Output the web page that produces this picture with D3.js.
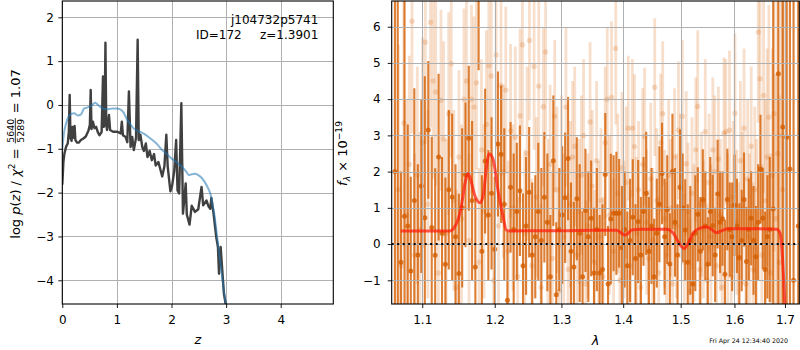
<!DOCTYPE html>
<html><head><meta charset="utf-8">
<script src="https://cdn.jsdelivr.net/npm/d3@7"></script>
<style>
body{margin:0;background:#fff}
svg{display:block;font-family:"DejaVu Sans",sans-serif}
</style></head><body>
<svg id="c" width="800" height="350"></svg>
<script>
// ---------------- DATA ----------------
// left panel: log p(z)
const zDark = [0.00,0.02,0.04,0.07,0.10,0.12,0.135,0.15,0.17,0.185,0.20,0.225,0.24,0.27,0.30,0.34,0.38,0.43,0.48,0.505,0.52,0.535,0.56,0.59,0.62,0.65,0.68,0.72,0.745,0.76,0.775,0.79,0.805,0.82,0.855,0.875,0.93,1.00,1.07,1.09,1.11,1.16,1.19,1.22,1.25,1.28,1.31,1.35,1.38,1.40,1.43,1.465,1.495,1.53,1.56,1.60,1.64,1.68,1.71,1.76,1.80,1.83,1.87,1.905,1.93,1.98,2.01,2.05,2.085,2.11,2.14,2.18,2.21,2.26,2.28,2.33,2.37,2.43,2.49,2.55,2.58,2.64,2.68,2.71,2.73,2.77,2.82,2.85,2.87,2.90,2.93,2.96,3.00];
const logpDark = [-1.82,-1.30,-1.10,-0.95,-0.88,-0.60,0.23,-0.75,-0.82,-0.50,-0.75,-0.48,-0.80,-0.86,-0.86,-0.80,-0.77,-0.72,-0.58,-0.45,0.34,-0.55,-0.38,-0.53,-0.50,-0.62,-0.69,-0.62,0.65,-0.50,-0.45,1.42,-0.45,-0.57,-0.23,-0.57,-0.61,-0.61,-0.65,-0.38,-0.69,-0.73,-0.85,0.31,-0.96,-0.73,-1.03,-0.75,1.49,-0.80,-0.68,-0.96,-1.05,-0.88,-1.19,-1.05,-1.26,-1.12,-1.38,-1.30,-1.49,-1.63,-1.40,-0.68,-1.40,-1.97,-1.85,-1.50,-0.80,-1.95,-2.02,0.04,-2.48,-1.79,-2.50,-2.73,-2.30,-2.44,-2.38,-1.87,-2.29,-2.18,-2.32,-2.37,-2.12,-2.48,-3.02,-3.24,-3.85,-3.24,-3.78,-4.31,-4.60];
const zSmooth = [0.00,0.03,0.07,0.12,0.17,0.22,0.28,0.34,0.40,0.48,0.55,0.60,0.64,0.70,0.77,0.84,0.92,1.00,1.06,1.12,1.19,1.25,1.31,1.40,1.50,1.58,1.65,1.74,1.83,1.92,2.01,2.10,2.20,2.27,2.32,2.37,2.43,2.49,2.55,2.61,2.67,2.71,2.75,2.79,2.83,2.87,2.91,2.95,3.00];
const logpSmooth = [-1.00,-0.65,-0.42,-0.25,-0.20,-0.19,-0.24,-0.22,-0.08,-0.05,0.00,0.05,0.02,-0.05,-0.09,-0.10,-0.08,-0.08,-0.10,-0.17,-0.34,-0.45,-0.54,-0.60,-0.66,-0.73,-0.80,-0.90,-1.03,-1.13,-1.23,-1.31,-1.42,-1.52,-1.60,-1.58,-1.57,-1.60,-1.66,-1.76,-1.90,-2.02,-2.25,-2.55,-2.95,-3.35,-3.75,-4.15,-4.60];
const zTicks = [0,1,2,3,4];
const pTicks = [-4,-3,-2,-1,0,1,2];

// right panel: spectrum
const darkWave = [1.0645,1.0681,1.0722,1.0768,1.0810,1.0850,1.0896,1.0942,1.0988,1.1034,1.1080,1.1126,1.1172,1.1218,1.1264,1.1310,1.1356,1.1402,1.1448,1.1494,1.1540,1.1586,1.1632,1.1678,1.1724,1.1770,1.1816,1.1862,1.1908,1.1954,1.2000,1.2046,1.2092,1.2138,1.2184,1.2230,1.2276,1.2322,1.2368,1.2414,1.2460,1.2506,1.2552,1.2598,1.2644,1.2690,1.2736,1.2782,1.2828,1.2874,1.2920,1.2966,1.3012,1.3058,1.3104,1.3150,1.3196,1.3242,1.3288,1.3334,1.3380,1.3426,1.3472,1.3518,1.3564,1.3610,1.3656,1.3702,1.3748,1.3794,1.3840,1.3886,1.3932,1.3978,1.4024,1.4070,1.4116,1.4162,1.4208,1.4254,1.4300,1.4346,1.4392,1.4438,1.4484,1.4530,1.4576,1.4622,1.4668,1.4714,1.4760,1.4806,1.4852,1.4898,1.4944,1.4990,1.5036,1.5082,1.5128,1.5174,1.5220,1.5266,1.5312,1.5358,1.5404,1.5450,1.5496,1.5542,1.5588,1.5634,1.5680,1.5726,1.5772,1.5818,1.5864,1.5910,1.5956,1.6002,1.6048,1.6094,1.6140,1.6186,1.6232,1.6278,1.6324,1.6370,1.6416,1.6462,1.6508,1.6554,1.6600,1.6646,1.6692,1.6762,1.6865,1.6955,1.7036,1.7101,1.7176,1.7273];
const darkFlux = [2.0,-2.5,-0.5,0.77,0.5,-0.74,1.2,-0.3,1.6,0.73,
3.15,0.46,-0.31,2.4,0.3,-0.56,1.5,1.3,0.2,-0.81,
1.0,1.91,2.92,1.2,-0.63,8.0,-0.2,2.29,0.8,1.4,
-0.14,2.76,2.48,1.1,-1.55,1.57,0.4,0.9,1.47,-0.6,
0.5,1.43,-0.3,0.2,0.9,0.1,1.29,0.6,-0.9,2.3,
-1.4,0.4,0.8,1.28,2.36,-0.2,-0.63,1.25,0.3,-0.9,
0.93,0.2,0.71,-0.8,0.4,-0.8,-0.7,1.92,-1.1,0.69,
0.85,0.85,0.85,-0.1,0.4,-0.6,0.1,0.74,-0.4,0.62,
-0.3,0.9,1.4,-0.2,0.5,-0.9,0.3,1.1,1.95,0.2,
0.95,-0.55,2.0,0.6,-0.3,1.56,1.0,0.39,-0.5,0.1,
-1.1,0.3,0.82,-0.2,1.22,0.5,-0.56,0.9,0.51,-0.3,
1.38,0.6,0.7,-0.83,1.23,0.4,0.2,1.07,0.5,-0.37,
0.1,1.23,-0.48,0.4,0.71,0.1,-0.35,0.6,2.07,0.71,
-0.7,0.2,0.4,0.97,4.7,3.23,2.95,2.07,-1.0,0.5];
const darkErr = [20,15,2.5,10,2.8,2.6,3.1,2.5,2.4,3.9,
1.9,2.5,2.4,2.3,2.1,2.4,2.2,2.3,2.0,2.2,
2.2,2.0,2.0,2.2,1.9,3.2,2.1,2.0,1.8,2.1,
2.0,2.0,1.9,2.1,1.9,1.8,2.1,1.9,1.8,2.0,
1.9,1.8,2.0,1.7,1.9,2.0,1.8,1.9,1.7,1.8,
2.0,1.7,1.9,1.8,1.7,1.9,1.8,1.7,1.9,1.8,
1.7,1.8,1.6,1.8,1.7,1.6,1.8,1.7,1.6,1.8,
1.6,1.7,1.5,1.7,1.6,1.5,1.7,1.6,1.5,1.7,
1.6,1.5,1.7,1.5,1.6,1.6,1.5,1.6,1.4,1.6,
1.5,1.4,1.6,1.5,1.4,1.6,1.5,1.4,1.6,1.5,
1.4,1.6,1.3,1.5,1.4,1.5,1.3,1.5,1.4,1.3,
1.5,1.4,1.3,1.5,1.4,1.3,1.5,1.4,1.3,1.5,
1.4,1.3,1.5,1.4,1.3,1.5,1.4,1.6,1.5,1.4,
1.6,1.7,2.0,6,9,10,12,12,15,18];
const lightWave = [1.0690,1.0725,1.0760,1.0795,1.0830,1.0865,1.0900,1.0935,1.0970,1.1005,1.1040,1.1075,1.1110,1.1145,1.1180,1.1215,1.1250,1.1285,1.1320,1.1355,1.1390,1.1425,1.1460,1.1495,1.1530,1.1565,1.1600,1.1635,1.1670,1.1705,1.1740,1.1775,1.1810,1.1845,1.1880,1.1915,1.1950,1.1985,1.2020,1.2055,1.2090,1.2125,1.2160,1.2195,1.2230,1.2265,1.2300,1.2335,1.2370,1.2405,1.2440,1.2475,1.2510,1.2545,1.2580,1.2615,1.2650,1.2685,1.2720,1.2755,1.2790,1.2825,1.2860,1.2895,1.2930,1.2965,1.3000,1.3035,1.3070,1.3105,1.3140,1.3175,1.3210,1.3245,1.3280,1.3315,1.3350,1.3385,1.3420,1.3455,1.3490,1.3525,1.3560,1.3595,1.3630,1.3665,1.3700,1.3735,1.3770,1.3805,1.3840,1.3875,1.3910,1.3945,1.3980,1.4015,1.4050,1.4085,1.4120,1.4155,1.4190,1.4225,1.4260,1.4295,1.4330,1.4365,1.4400,1.4435,1.4470,1.4505,1.4540,1.4575,1.4610,1.4645,1.4680,1.4715,1.4750,1.4785,1.4820,1.4855,1.4890,1.4925,1.4960,1.4995,1.5030,1.5065,1.5100,1.5135,1.5170,1.5205,1.5240,1.5275,1.5310,1.5345,1.5380,1.5415,1.5450,1.5485,1.5520,1.5555,1.5590,1.5625,1.5660,1.5695,1.5730,1.5765,1.5800,1.5835,1.5870,1.5905,1.5940,1.5975,1.6010,1.6045,1.6080,1.6115,1.6150,1.6185,1.6220,1.6255,1.6290,1.6325,1.6360,1.6395,1.6430,1.6465,1.6500,1.6535,1.6570,1.6605,1.6640,1.6675,1.6710,1.6745,1.6780,1.6815,1.6850,1.6885,1.6920,1.6955,1.6990];
const lightFlux = [1.5,-0.6,3.34,0.8,2.2,6.15,-0.3,1.9,0.4,2.8,
5.57,1.1,6.12,4.5,4.2,-0.8,3.97,2.9,0.3,3.6,
4.98,1.2,-1.2,2.4,0.7,4.0,4.5,0.1,4.0,3.78,
4.45,-0.5,2.6,0.9,3.3,4.93,4.64,-1.0,5.22,0.5,
4.38,2.0,4.25,-0.2,3.12,1.0,2.95,-0.9,3.54,5.5,
0.3,2.5,5.62,-0.6,4.9,1.3,4.36,-1.2,3.79,5.3,
0.6,2.2,-0.4,3.53,1.5,-1.3,2.0,0.2,3.78,-0.7,
1.1,2.4,2.7,-0.3,0.9,1.9,3.0,-1.1,0.5,3.37,
1.6,-0.5,2.3,0.2,1.2,-0.9,2.8,4.0,0.8,4.05,
-0.2,5.4,1.4,-1.0,2.1,0.4,1.7,3.2,-0.6,3.2,
2.69,0.3,1.5,-1.2,2.2,2.97,0.6,-0.4,1.8,0.1,
4.33,1.2,-0.8,2.8,3.6,0.7,-0.3,1.9,1.0,-1.1,
2.4,0.5,3.14,1.6,3.53,-0.5,2.22,0.9,-1.3,1.4,
0.3,2.6,3.8,-0.7,1.1,0.4,3.1,-1.0,1.7,0.2,
2.6,2.0,-0.6,2.35,0.8,-1.2,3.05,3.1,0.4,3.14,
-0.9,1.3,3.61,0.6,-0.4,2.3,1.0,3.2,-1.1,1.8,
0.2,2.7,-0.7,1.5,0.5,5.85,4.56,-0.3,4.1,1.2,
2.4,3.5,-0.8,1.9,3.6,0.7,2.5,-0.5,3.0,1.5,2.0];
const lightErr = [4.0,3.6,3.4,3.2,3.0,3.1,2.8,3.0,2.7,2.9,
2.8,2.6,2.9,2.7,2.6,2.8,2.5,2.7,2.6,2.8,
2.6,2.5,2.7,2.4,2.6,2.5,2.7,2.4,2.6,2.5,
2.4,2.6,2.5,2.4,2.6,2.3,2.5,2.4,2.6,2.3,
2.5,2.4,2.3,2.5,2.4,2.3,2.5,2.2,2.4,2.5,
2.3,2.4,2.2,2.4,2.3,2.2,2.4,2.3,2.2,2.4,
2.3,2.2,2.4,2.1,2.3,2.2,2.1,2.3,2.2,2.1,
2.3,2.1,2.2,2.3,2.0,2.2,2.1,2.3,2.0,2.2,
2.1,2.0,2.2,2.1,2.0,2.2,2.1,2.0,2.2,2.1,
2.0,2.1,2.2,2.0,2.1,1.9,2.1,2.0,2.1,1.9,
2.0,2.1,1.9,2.0,2.1,1.9,2.0,1.9,2.1,2.0,
1.9,2.0,2.1,1.9,2.0,1.9,2.0,2.1,1.9,2.0,
1.9,2.0,1.9,2.0,2.1,1.9,2.0,1.9,2.0,2.1,
1.9,2.0,2.1,1.9,2.0,1.9,2.0,2.1,1.9,2.0,
2.0,2.1,1.9,2.0,2.1,2.0,2.1,2.0,2.1,2.2,
2.0,2.1,2.2,2.0,2.1,2.2,2.1,2.2,2.3,2.2,
2.3,2.2,2.4,2.3,2.4,2.5,2.6,2.5,2.7,2.8,
3.0,3.1,3.3,3.5,3.8,4.0,4.3,4.6,5.0,5.5,6.0];
const modelWave = [1.0719,1.1000,1.1370,1.1422,1.1524,1.1583,1.1620,1.1655,1.1715,1.1793,1.1840,1.1880,1.1920,1.1975,1.2046,1.2121,1.2167,1.2220,1.2600,1.3000,1.3500,1.3890,1.3965,1.4028,1.4085,1.4142,1.4300,1.4500,1.4749,1.4867,1.4957,1.5060,1.5136,1.5227,1.5352,1.5476,1.5570,1.5659,1.5760,1.5880,1.6200,1.6500,1.6833,1.6900,1.6953,1.6980,1.7000];
const modelFlux = [0.36,0.36,0.36,0.43,0.99,1.72,1.95,1.80,1.35,1.14,1.40,2.10,2.49,2.35,1.49,0.75,0.39,0.36,0.37,0.37,0.38,0.38,0.31,0.25,0.30,0.39,0.41,0.41,0.41,0.30,0.06,-0.12,0.02,0.30,0.44,0.47,0.40,0.31,0.37,0.42,0.42,0.42,0.41,0.30,-0.44,-1.18,-1.75];
const lamTicks = [1.1,1.2,1.3,1.4,1.5,1.6,1.7];
const fTicks = [-1,0,1,2,3,4,5,6];
const objName = "j104732p5741";
const idText = "ID=172";
const zText = "z=1.3901";
const stamp = "Fri Apr 24 12:34:40 2020";

// ---------------- DRAW ----------------
const svg = d3.select("#c");
svg.append("rect").attr("width",800).attr("height",350).attr("fill","#fff");
const defs = svg.append("defs");
const FS = 12;
const GRID = "#b0b0b0";

const L = {x0:62.3, x1:333.3, y0:1, y1:304};
const R = {x0:391.7, x1:799.3, y0:1, y1:304};

function clip(id, b){
  defs.append("clipPath").attr("id",id).append("rect")
    .attr("x",b.x0).attr("y",b.y0).attr("width",b.x1-b.x0).attr("height",b.y1-b.y0);
}
clip("clipL",L); clip("clipR",R);

function styleAxis(g){
  g.select(".domain").remove();
  g.selectAll(".tick line").attr("stroke","#000").attr("stroke-width",0.9);
  g.selectAll(".tick text").attr("font-size",FS).attr("font-family","DejaVu Sans").attr("fill","#000");
}
function grid(g, xs, ys, xsc, ysc, b){
  g.selectAll("line.gx").data(xs).join("line").attr("class","gx")
    .attr("x1",d=>Math.round(xsc(d))+0.5).attr("x2",d=>Math.round(xsc(d))+0.5)
    .attr("y1",b.y0).attr("y2",b.y1).attr("stroke",GRID).attr("stroke-width",1);
  g.selectAll("line.gy").data(ys).join("line").attr("class","gy")
    .attr("y1",d=>Math.round(ysc(d))+0.5).attr("y2",d=>Math.round(ysc(d))+0.5)
    .attr("x1",b.x0).attr("x2",b.x1).attr("stroke",GRID).attr("stroke-width",1);
}
function frame(b){
  svg.append("rect").attr("x",b.x0).attr("y",b.y0).attr("width",b.x1-b.x0).attr("height",b.y1-b.y0)
    .attr("fill","none").attr("stroke","#000").attr("stroke-width",1.1);
}
function richLabel(parent, pieces, fs){
  const g = parent.append("g");
  let x = 0;
  pieces.forEach(p=>{
    if(p.frac){
      const sf = fs*0.72;
      const axisY = -fs*0.32;
      const t1 = g.append("text").attr("font-size",sf).attr("text-anchor","middle").text(p.frac[0]);
      const t2 = g.append("text").attr("font-size",sf).attr("text-anchor","middle").text(p.frac[1]);
      const w = Math.max(t1.node().getComputedTextLength(), t2.node().getComputedTextLength());
      const pad = 1.5;
      t1.attr("x",x+pad+w/2).attr("y",axisY-1.8);
      t2.attr("x",x+pad+w/2).attr("y",axisY+1.8+sf*0.73);
      g.append("line").attr("x1",x+pad*0.5).attr("x2",x+w+pad*1.5).attr("y1",axisY).attr("y2",axisY)
        .attr("stroke","#000").attr("stroke-width",0.8);
      x += w + pad*2;
    } else {
      const t = g.append("text").attr("x",x).attr("y",p.dy||0)
        .attr("font-size",p.size?fs*p.size:fs)
        .attr("font-style",p.it?"italic":null)
        .attr("xml:space","preserve").style("white-space","pre").text(p.t);
      x += t.node().getComputedTextLength();
    }
  });
  g.attr("transform",`translate(${-x/2},0)`);
  return x;
}

// ----- left panel -----
const xz = d3.scaleLinear().domain([0,4.963]).range([L.x0,L.x1]);
const yp = d3.scaleLinear().domain([-4.541,2.372]).range([L.y1,L.y0]);
grid(svg.append("g"), zTicks, pTicks, xz, yp, L);
const gl = svg.append("g").attr("clip-path","url(#clipL)");
const lineL = d3.line().x(d=>xz(d[0])).y(d=>yp(d[1]));
gl.append("path").datum(d3.zip(zDark,logpDark)).attr("d",lineL)
  .attr("fill","none").attr("stroke","#404040").attr("stroke-width",2.4).attr("stroke-linejoin","round");
gl.append("path").datum(d3.zip(zSmooth,logpSmooth)).attr("d",lineL.curve(d3.curveMonotoneX))
  .attr("fill","none").attr("stroke","#1f77b4").attr("stroke-opacity",0.55).attr("stroke-width",2);
frame(L);
styleAxis(svg.append("g").attr("transform",`translate(0,${L.y1})`)
  .call(d3.axisBottom(xz).tickValues(zTicks).tickSize(4).tickPadding(7).tickFormat(d3.format("d"))));
styleAxis(svg.append("g").attr("transform",`translate(${L.x0},0)`)
  .call(d3.axisLeft(yp).tickValues(pTicks).tickSize(4).tickPadding(4.3).tickFormat(d3.format("d"))));
svg.append("text").attr("x",318.3).attr("y",24).attr("text-anchor","end").attr("font-size",FS).text(objName);
svg.append("text").attr("x",318.3).attr("y",38.5).attr("text-anchor","end").attr("font-size",FS).text(zText);
svg.append("text").attr("x",241.7).attr("y",38.5).attr("text-anchor","end").attr("font-size",FS).text(idText);
svg.append("text").attr("x",(L.x0+L.x1)/2).attr("y",344).attr("text-anchor","middle")
  .attr("font-size",13).attr("font-style","italic").text("z");
const ylabL = svg.append("g").attr("transform","translate(19.5,154) rotate(-90)");
richLabel(ylabL,[{t:"log "},{t:"p",it:1},{t:"("},{t:"z",it:1},{t:")"},{t:" / "},{t:"χ",it:1},
  {t:"2",size:0.7,dy:-5},{t:" = "},{frac:["5640","5289"]},{t:" = 1.07"}],13);

// ----- right panel -----
const xl = d3.scaleLog().domain([1.0604,1.7295]).range([R.x0,R.x1]);
const yf = d3.scaleLinear().domain([-1.654,6.709]).range([R.y1,R.y0]);
const C = "#d55e00";
const gr = svg.append("g").attr("clip-path","url(#clipR)");
const li = d3.range(lightWave.length);
gr.append("g").selectAll("line").data(li).join("line")
  .attr("x1",i=>xl(lightWave[i])).attr("x2",i=>xl(lightWave[i]))
  .attr("y1",i=>yf(lightFlux[i]-lightErr[i])).attr("y2",i=>yf(lightFlux[i]+lightErr[i]))
  .attr("stroke",C).attr("stroke-opacity",0.2).attr("stroke-width",2.8);
gr.append("g").selectAll("circle").data(li).join("circle")
  .attr("cx",i=>xl(lightWave[i])).attr("cy",i=>yf(lightFlux[i])).attr("r",2.7)
  .attr("fill",C).attr("fill-opacity",0.2);
const di = d3.range(darkWave.length);
gr.append("g").selectAll("line").data(di).join("line")
  .attr("x1",i=>xl(darkWave[i])).attr("x2",i=>xl(darkWave[i]))
  .attr("y1",i=>yf(darkFlux[i]-darkErr[i])).attr("y2",i=>yf(darkFlux[i]+darkErr[i]))
  .attr("stroke",C).attr("stroke-opacity",0.8).attr("stroke-width",2.1);
gr.append("g").selectAll("circle").data(di).join("circle")
  .attr("cx",i=>xl(darkWave[i])).attr("cy",i=>yf(darkFlux[i])).attr("r",2.5)
  .attr("fill",C).attr("fill-opacity",0.8);
grid(svg.append("g"), lamTicks, fTicks, xl, yf, R);
const gr2 = svg.append("g").attr("clip-path","url(#clipR)");
gr2.append("path").datum(d3.zip(modelWave,modelFlux))
  .attr("d",d3.line().x(d=>xl(d[0])).y(d=>yf(d[1])).curve(d3.curveMonotoneX))
  .attr("fill","none").attr("stroke","#ff1a0a").attr("stroke-opacity",0.72).attr("stroke-width",3);
gr2.append("line").attr("x1",R.x0).attr("x2",R.x1).attr("y1",yf(0)).attr("y2",yf(0))
  .attr("stroke","#000").attr("stroke-width",2).attr("stroke-dasharray","2,3.5");
frame(R);
styleAxis(svg.append("g").attr("transform",`translate(0,${R.y1})`)
  .call(d3.axisBottom(xl).tickValues(lamTicks).tickSize(4).tickPadding(7).tickFormat(d3.format(".1f"))));
styleAxis(svg.append("g").attr("transform",`translate(${R.x0},0)`)
  .call(d3.axisLeft(yf).tickValues(fTicks).tickSize(4).tickPadding(7).tickFormat(d3.format("d"))));
svg.append("text").attr("x",(R.x0+R.x1)/2).attr("y",345).attr("text-anchor","middle")
  .attr("font-size",13).attr("font-style","italic").text("λ");
const ylabR = svg.append("g").attr("transform","translate(347,153.5) rotate(-90)");
richLabel(ylabR,[{t:"f",it:1},{t:"λ",it:1,size:0.7,dy:3},{t:" × 10"},{t:"−19",size:0.7,dy:-5}],13);
svg.append("text").attr("x",788).attr("y",342.5).attr("text-anchor","end").attr("font-size",6.3).text(stamp);
</script>
</body></html>
